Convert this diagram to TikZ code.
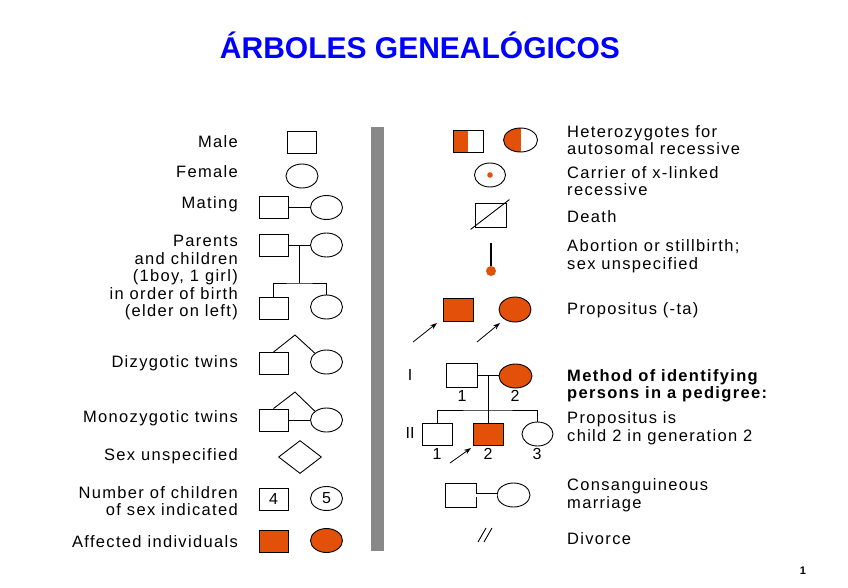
\documentclass[tikz,border=0pt]{standalone}
\usepackage{fontspec}
\setmainfont{Liberation Sans}
\newfontfamily\labfont{Liberation Sans}[LetterSpace=8]
\usetikzlibrary{shapes.geometric,arrows.meta,calc}
\definecolor{org}{RGB}{226,80,10}
\definecolor{barc}{RGB}{136,136,136}
\definecolor{ttl}{RGB}{0,0,255}
\tikzset{
  lab/.style={font=\labfont\fontsize{16.5}{17.5}\selectfont, inner sep=0pt},
  llab/.style={lab, anchor=east, align=right},
  rlab/.style={lab, anchor=west, align=left},
  num/.style={font=\fontsize{16}{17}\selectfont, inner sep=0pt},
  sq/.style={draw, rectangle, minimum width=29pt, minimum height=22pt, inner sep=0pt, line width=0.9pt},
  circ/.style={draw, ellipse, minimum width=32pt, minimum height=24pt, inner sep=0pt, line width=0.9pt},
  ln/.style={line width=0.9pt},
  arr/.style={line width=0.8pt, -{Stealth[length=7pt,width=5pt]}},
}
\begin{document}
\begin{tikzpicture}[x=1pt,y=-1pt]
\useasboundingbox (0,0) rectangle (848,587);
% title
\node[font=\fontsize{30}{34}\selectfont\bfseries, text=ttl, inner sep=0pt] (title) at (420,45) {ÁRBOLES GENEALÓGICOS};
\node[font=\fontsize{11}{13}\selectfont\bfseries, inner sep=0pt] (pnum) at (803,571) {1};
% gray bar
\fill[barc] (371,127) rectangle (384,551);

% ===== left column =====
\node[llab] (tMale) at (238,142) {Male};
\node[sq] (male) at (302,142) {};
\node[llab] (tFemale) at (238,172) {Female};
\node[circ] (female) at (302,176) {};
\node[llab] (tMating) at (238,204) {Mating};
\node[sq] (matM) at (273.5,207.5) {};
\node[circ] (matF) at (326.5,207.5) {};
\draw[ln] (matM.east) -- (matF.west);

\node[llab] (tPar) at (238,278) {Parents\\and children\\(1boy, 1 girl)\\in order of birth\\(elder on left)};
\node[sq] (parM) at (273.5,245) {};
\node[circ] (parF) at (326.5,245) {};
\draw[ln] (parM.east) -- (parF.west);
\coordinate (pm) at (299,245);
\coordinate (sib1) at (299,283);
\node[sq] (chM) at (273.5,308) {};
\node[circ] (chF) at (326.5,307) {};
\draw[ln] (pm) -- (sib1);
\draw[ln] (chM.north) |- (sib1) -| (chF.north);

\node[llab] (tDz) at (238,363) {Dizygotic twins};
\node[sq] (dzM) at (273.5,363.5) {};
\node[circ] (dzF) at (326.5,362) {};
\coordinate (dzA) at (295,335);
\draw[ln] (dzM.north) -- (dzA) -- (dzF.north west);

\node[llab] (tMz) at (238,418) {Monozygotic twins};
\node[sq] (mzM) at (273.5,420) {};
\node[circ] (mzF) at (326.5,420) {};
\coordinate (mzA) at (295,392);
\draw[ln] (mzM.north) -- (mzA) -- (mzF.north west);
\draw[ln] (mzM.east) -- (mzF.west);

\node[llab] (tSu) at (238,456) {Sex unspecified};
\node[draw, diamond, aspect=1.3, minimum width=43pt, minimum height=33pt, inner sep=0pt, line width=0.9pt] (su) at (300,457) {};

\node[llab] (tNum) at (238,501) {Number of children\\of sex indicated};
\node[sq, num] (n4) at (273.5,499) {4};
\node[circ, num] (n5) at (326.5,498.5) {5};

\node[llab] (tAff) at (238,542) {Affected individuals};
\node[sq, fill=org] (afM) at (273.5,541.5) {};
\node[circ, fill=org] (afF) at (326.5,540.5) {};

% ===== right column =====
\node[sq, minimum width=30pt, path picture={\fill[org] (path picture bounding box.north west) rectangle (path picture bounding box.south);}] (hetM) at (468,141) {};
\node[circ, minimum width=34pt, path picture={\fill[org] (path picture bounding box.north west) rectangle (path picture bounding box.south);}] (hetF) at (520.5,140) {};
\node[rlab] (tHet) at (567,140) {Heterozygotes for\\autosomal recessive};

\node[circ, minimum width=31pt] (car) at (490,175) {};
\fill[org] (car.center) circle (2.8);
\node[rlab] (tCar) at (567,181) {Carrier of x-linked\\recessive};

\node[sq, minimum width=31pt, minimum height=24pt] (death) at (490.5,215) {};
\coordinate (dA) at ($(death.south west)+(-4,2)$);
\coordinate (dB) at ($(death.north east)+(3,-3)$);
\draw[ln] (dA) -- (dB);
\node[rlab] (tDeath) at (567,217) {Death};

\coordinate (abT) at (491,243);
\node[circle, fill=org, minimum size=10pt, inner sep=0pt] (abD) at (491,271) {};
\draw[line width=1.1pt] (abT) -- (abD.north);
\node[rlab] (tAb) at (567,256) {Abortion or stillbirth;\\sex unspecified};

\node[sq, fill=org, minimum width=30pt, minimum height=23pt] (prM) at (458,309.5) {};
\node[circ, fill=org, minimum width=32pt, minimum height=25pt] (prF) at (515,309.5) {};
\coordinate (a1s) at (413,342);
\coordinate (a1e) at (437,323);
\coordinate (a2s) at (477,342);
\coordinate (a2e) at (500,323);
\draw[arr] (a1s) -- (a1e);
\draw[arr] (a2s) -- (a2e);
\node[rlab] (tPr) at (567,310) {Propositus (-ta)};

% pedigree
\node[num] (gI) at (410,375) {I};
\node[num] (gII) at (410,433) {II};
\node[sq, minimum width=31pt, minimum height=24pt] (g1M) at (461.5,375) {};
\node[circ, fill=org, minimum width=33pt] (g1F) at (515.5,376) {};
\draw[ln] (g1M.east) -- (g1F.west |- g1M.east);
\coordinate (g1m) at (488,375);
\coordinate (sib2) at (488,410);
\node[sq, minimum width=30pt] (g2a) at (437,434) {};
\node[sq, fill=org, minimum width=30pt] (g2b) at (488,434) {};
\node[circ, minimum width=31pt] (g2c) at (537.5,434) {};
\draw[ln] (g1m) -- (g2b.north);
\draw[ln] (g2a.north) |- (sib2) -| (g2c.north);
\node[num] (l11) at (462,396) {1};
\node[num] (l12) at (515,396) {2};
\node[num] (l21) at (437,454) {1};
\node[num] (l22) at (488,454) {2};
\node[num] (l23) at (537,454) {3};
\coordinate (a3s) at (450,463);
\coordinate (a3e) at (471,448);
\draw[arr] (a3s) -- (a3e);
\node[rlab, font=\labfont\fontsize{16.5}{17.5}\selectfont\bfseries] (tMeth) at (567,386) {Method of identifying\\persons in a pedigree:};
\node[rlab] (tPi) at (567,428) {Propositus is\\child 2 in generation 2};

\node[sq, minimum width=31pt, minimum height=24pt] (cM) at (460.5,495) {};
\node[circ, minimum width=33pt] (cF) at (513.5,495) {};
\draw[line width=0.8pt, double, double distance=3pt] (cM.east) -- (cF.west);
\node[rlab] (tCon) at (567,495) {Consanguineous\\marriage};

\coordinate (dv1a) at (478,542);
\coordinate (dv1b) at (486,528);
\coordinate (dv2a) at (484,542);
\coordinate (dv2b) at (492,528);
\draw[line width=0.9pt] (dv1a) -- (dv1b);
\draw[line width=0.9pt] (dv2a) -- (dv2b);
\node[rlab] (tDiv) at (567,539) {Divorce};
\end{tikzpicture}
\end{document}
